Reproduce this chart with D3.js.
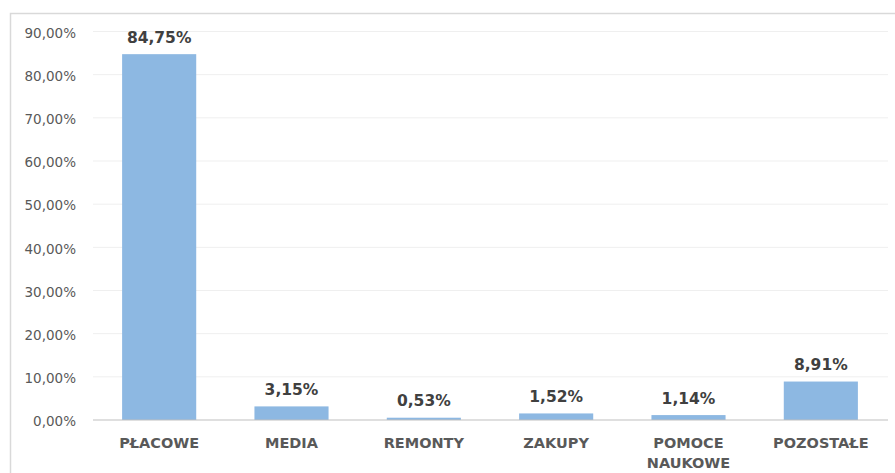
<!DOCTYPE html>
<html>
<head>
<meta charset="utf-8">
<script src="https://cdn.jsdelivr.net/npm/d3@7"></script>
<style>
  body { margin: 0; background: #fff; }
  text { font-family: "DejaVu Sans", Verdana, sans-serif; }
</style>
</head>
<body>
<div id="chart-area"></div>
<script>
// data
var categories = [["PŁACOWE"], ["MEDIA"], ["REMONTY"], ["ZAKUPY"], ["POMOCE", "NAUKOWE"], ["POZOSTAŁE"]];
var values = [84.75, 3.15, 0.53, 1.52, 1.14, 8.91];
var yTicks = [0, 10, 20, 30, 40, 50, 60, 70, 80, 90];

var fmt = function(v, d) { return v.toFixed(d).replace(".", ",") + "%"; };

var svg = d3.select("#chart-area").append("svg")
	.attr("width", 895)
	.attr("height", 473);

// chart frame (only top and left visible)
svg.append("path")
	.attr("d", "M10.5,473 V13.5 H895")
	.attr("fill", "none")
	.attr("stroke", "#d9d9d9")
	.attr("stroke-width", 1.5);

var x = d3.scaleBand()
	.domain(d3.range(values.length))
	.range([93, 887])
	.paddingInner(0.44)
	.paddingOuter(0.22);

var y = d3.scaleLinear()
	.domain([0, 90])
	.range([420, 31.5]);

// gridlines
svg.selectAll(".grid")
	.data(yTicks.slice(1))
	.enter().append("line")
	.attr("x1", 93)
	.attr("x2", 888)
	.attr("y1", d => y(d))
	.attr("y2", d => y(d))
	.attr("stroke", "#efefef")
	.attr("stroke-width", 1);

// y axis labels
var yAxis = d3.axisLeft(y)
	.tickValues(yTicks)
	.tickSize(0)
	.tickPadding(0)
	.tickFormat(d => fmt(d, 2));

svg.append("g")
	.attr("transform", "translate(76,0)")
	.call(yAxis)
	.call(g => g.select(".domain").remove())
	.selectAll("text")
	.attr("fill", "#595959")
	.attr("font-family", "'DejaVu Sans', sans-serif")
	.attr("font-size", "13.5px")
	.attr("dy", "0.43em");

// bars
svg.selectAll(".bar")
	.data(values)
	.enter().append("rect")
	.attr("x", (d, i) => x(i))
	.attr("y", d => y(d))
	.attr("width", x.bandwidth())
	.attr("height", d => y(0) - y(d))
	.attr("fill", "#8db8e2");

// baseline
svg.append("line")
	.attr("x1", 93)
	.attr("x2", 888)
	.attr("y1", y(0))
	.attr("y2", y(0))
	.attr("stroke", "#bfbfbf")
	.attr("stroke-width", 1);

// value labels
svg.selectAll(".val")
	.data(values)
	.enter().append("text")
	.attr("x", (d, i) => x(i) + x.bandwidth() / 2)
	.attr("y", d => y(d) - 11.5)
	.attr("text-anchor", "middle")
	.attr("font-size", "15.5px")
	.attr("font-weight", "bold")
	.attr("fill", "#404040")
	.text(d => fmt(d, 2));

// category labels
var cat = svg.selectAll(".cat")
	.data(categories)
	.enter().append("text")
	.attr("x", (d, i) => x(i) + x.bandwidth() / 2)
	.attr("y", 447.5)
	.attr("text-anchor", "middle")
	.attr("font-size", "14.5px")
	.attr("font-weight", "bold")
	.attr("fill", "#595959");

cat.selectAll("tspan")
	.data((d, i) => d.map(t => ({ t: t, i: i })))
	.enter().append("tspan")
	.attr("x", d => x(d.i) + x.bandwidth() / 2)
	.attr("dy", (d, j) => j === 0 ? 0 : 20.5)
	.text(d => d.t);
</script>
</body>
</html>
